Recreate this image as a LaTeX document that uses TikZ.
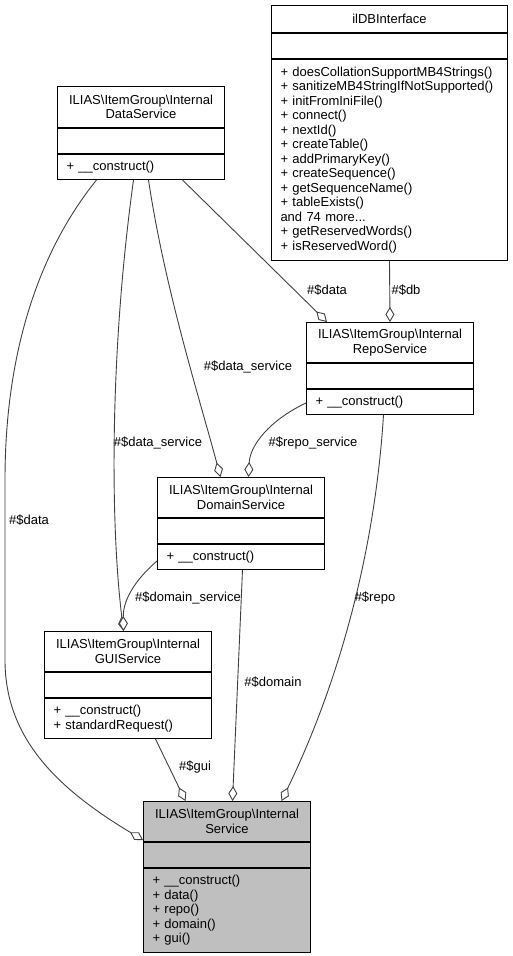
\documentclass[tikz,border=0pt]{standalone}
\usepackage{fontspec}
\setmainfont{Liberation Sans}
\usetikzlibrary{positioning,arrows.meta}
\definecolor{edgeGray}{RGB}{64,64,64}
\definecolor{serviceGray}{RGB}{191,191,191}

\begin{document}
\begin{tikzpicture}[x=1pt,y=-1pt,
  font=\fontsize{13}{14.5}\selectfont,
  classtitle/.style={rectangle,draw,fill=white,line width=1pt,anchor=north west,text width=153pt,align=center,inner xsep=7pt,inner ysep=0pt,minimum height=40pt},
  classpart/.style={rectangle,draw,fill=white,line width=1pt,below=0pt of #1,text width=149pt,align=left,inner xsep=9pt,inner ysep=0pt,minimum height=25pt},
  agg/.style={draw=edgeGray,line width=0.9pt,-{Diamond[length=15pt,width=9pt,fill=white]}},
  edgelabel/.style={inner sep=0pt}]
\useasboundingbox (0,0) rectangle (513,956);

% ilDBInterface
\node[classtitle,text width=222pt,minimum height=27pt] (ildb) at (271,5) {ilDBInterface};
\node[classpart=ildb,text width=218pt] (ildb-attr) {};
\node[classpart=ildb-attr,text width=218pt,minimum height=201pt] (ildb-ops) {+ doesCollationSupportMB4Strings()\\+ sanitizeMB4StringIfNotSupported()\\+ initFromIniFile()\\+ connect()\\+ nextId()\\+ createTable()\\+ addPrimaryKey()\\+ createSequence()\\+ getSequenceName()\\+ tableExists()\\and 74 more...\\+ getReservedWords()\\+ isReservedWord()};

% DataService
\node[classtitle,minimum height=41pt] (data) at (57,86) {ILIAS\textbackslash ItemGroup\textbackslash Internal\\DataService};
\node[classpart=data] (data-attr) {};
\node[classpart=data-attr] (data-ops) {+ \_\_construct()};

% RepoService
\node[classtitle] (repo) at (306,322) {ILIAS\textbackslash ItemGroup\textbackslash Internal\\RepoService};
\node[classpart=repo] (repo-attr) {};
\node[classpart=repo-attr] (repo-ops) {+ \_\_construct()};

% DomainService
\node[classtitle] (domain) at (157,477) {ILIAS\textbackslash ItemGroup\textbackslash Internal\\DomainService};
\node[classpart=domain] (domain-attr) {};
\node[classpart=domain-attr] (domain-ops) {+ \_\_construct()};

% GUIService
\node[classtitle] (gui) at (44,631) {ILIAS\textbackslash ItemGroup\textbackslash Internal\\GUIService};
\node[classpart=gui] (gui-attr) {};
\node[classpart=gui-attr,minimum height=40pt] (gui-ops) {+ \_\_construct()\\+ standardRequest()};

% Service
\node[classtitle,fill=serviceGray] (service) at (143,801) {ILIAS\textbackslash ItemGroup\textbackslash Internal\\Service};
\node[classpart=service,fill=serviceGray] (service-attr) {};
\node[classpart=service-attr,fill=serviceGray,minimum height=84pt] (service-ops) {+ \_\_construct()\\+ data()\\+ repo()\\+ domain()\\+ gui()};

% aggregations
\draw[agg] (ildb-ops.south) -- (repo.north);
\draw[agg] ([xshift=41.5pt]data-ops.south) -- ([xshift=-63pt]repo.north);
\draw[agg] ([xshift=7.5pt]data-ops.south) .. controls (165,290) and (200,400) .. ([xshift=-20.5pt]domain.north);
\draw[agg] ([yshift=-1pt]repo-ops.west) .. controls (270,420) and (250,445) .. ([xshift=7.5pt]domain.north);
\draw[agg] ([xshift=-7.5pt]data-ops.south) .. controls (110,350) and (110,520) .. ([xshift=-4.5pt]gui.north);
\draw[agg] ([yshift=-4pt]domain-ops.west) .. controls (135,580) and (123,600) .. ([xshift=-4.5pt]gui.north);
\draw[agg] ([xshift=-44.5pt]data-ops.south) .. controls (40,250) and (5,350) .. (5,480) -- (5,660) .. controls (5,740) and (60,790) .. ([yshift=2pt]service.south west);
\draw[agg] ([xshift=27.5pt]gui-ops.south) -- ([xshift=-41.5pt]service.north);
\draw[agg] ([xshift=1.5pt]domain-ops.south) -- ([xshift=5.5pt]service.north);
\draw[agg] ([xshift=-6.5pt]repo-ops.south) .. controls (375,550) and (340,680) .. ([xshift=54.5pt]service.north);

% labels
\node[edgelabel] (lbl-db) at (406,290) {\#\$db};
\node[edgelabel] (lbl-repo-data) at (327,290) {\#\$data};
\node[edgelabel] (lbl-domain-data) at (248,367) {\#\$data\_service};
\node[edgelabel] (lbl-repo-service) at (313,443) {\#\$repo\_service};
\node[edgelabel] (lbl-gui-data) at (158,443) {\#\$data\_service};
\node[edgelabel] (lbl-domain-service) at (188,598) {\#\$domain\_service};
\node[edgelabel] (lbl-data) at (29,520) {\#\$data};
\node[edgelabel] (lbl-repo) at (375,598) {\#\$repo};
\node[edgelabel] (lbl-domain) at (273,682) {\#\$domain};
\node[edgelabel] (lbl-gui) at (195,767) {\#\$gui};
\end{tikzpicture}
\end{document}
